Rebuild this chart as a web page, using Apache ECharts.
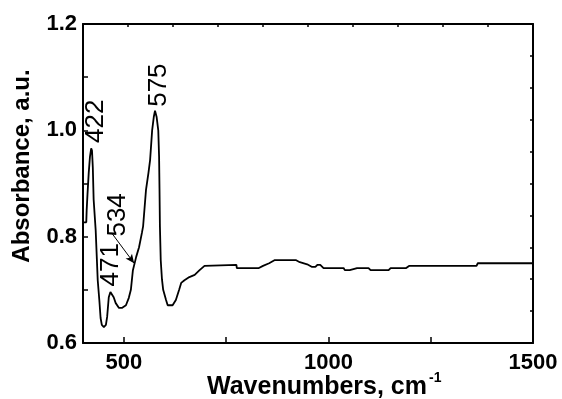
<!DOCTYPE html>
<html>
<head>
<meta charset="UTF-8">
<title>Absorbance spectrum</title>
<script src="https://cdn.jsdelivr.net/npm/echarts@6/dist/echarts.min.js"></script>
<style>
  html, body { margin: 0; padding: 0; background: #fff; }
  #main { width: 562px; height: 399px; }
</style>
</head>
<body>
<div id="main"></div>
<script>
// spectrum
var wavenumbers = [400, 408, 409, 411, 414, 417, 420, 422, 424, 426, 431, 436, 440, 443, 446, 451, 456, 459, 463, 467,
  470, 475, 480, 488, 495, 505, 512, 517, 522, 530, 537, 544, 547, 554, 560, 564, 569, 573, 576, 580,
  584, 586, 587, 588, 590, 593, 596, 603, 607, 619, 627, 635, 640, 648, 660, 673, 685, 697, 700, 775,
  776, 830, 840, 855, 869, 920, 930, 948, 960, 968, 973, 980, 988, 1037, 1040, 1052, 1055, 1070, 1098, 1103,
  1147, 1152, 1190, 1197, 1362, 1365, 1404, 1406, 1408, 1500];
var absorbance = [0.827, 0.827, 0.85, 0.88, 0.92, 0.95, 0.966, 0.962, 0.93, 0.87, 0.812, 0.718, 0.68, 0.647, 0.634, 0.630, 0.634, 0.649, 0.686, 0.696,
  0.698, 0.686, 0.675, 0.666, 0.666, 0.671, 0.685, 0.700, 0.737, 0.762, 0.780, 0.807, 0.82, 0.888, 0.92, 0.944, 1.0, 1.025, 1.037, 1.025,
  1.0, 0.95, 0.89, 0.82, 0.756, 0.72, 0.70, 0.681, 0.671, 0.671, 0.681, 0.700, 0.713, 0.718, 0.724, 0.728, 0.737, 0.745, 0.747, 0.747,
  0.741, 0.741, 0.745, 0.750, 0.756, 0.756, 0.752, 0.748, 0.743, 0.743, 0.747, 0.747, 0.741, 0.741, 0.737, 0.737, 0.739, 0.741, 0.741, 0.737,
  0.737, 0.741, 0.741, 0.745, 0.745, 0.750, 0.750, 0.753, 0.750, 0.750];

var xTicks = [500, 750, 1000, 1250, 1500];
var xTickLabels = [500, 1000, 1500];

// peak labels (rotated) and where they sit
var peakNames = ['422', '575', '534', '471'];
var peakLabelX = [431, 586, 485, 468];
var peakLabelY = [1.017, 1.085, 0.841, 0.747];

// leader arrow for 534
var arrowFrom = [470, 0.807];
var arrowTo = [525, 0.750];

var font = 'Arial, "Liberation Sans", sans-serif';

var spectrum = wavenumbers.map(function (w, i) { return [w, absorbance[i]]; });
var peakData = peakNames.map(function (n, i) { return { name: n, value: [peakLabelX[i], peakLabelY[i]] }; });

var chart = echarts.init(document.getElementById('main'));

var option = {
  animation: false,
  backgroundColor: '#fff',
  grid: { left: 83, right: 29, top: 24, bottom: 56 },
  xAxis: [{
    type: 'value',
    min: 400,
    max: 1500,
    axisLine: { lineStyle: { color: '#000', width: 2 } },
    axisTick: { inside: true, length: 6, customValues: xTicks, lineStyle: { color: '#000', width: 1.5 } },
    axisLabel: {
      customValues: xTickLabels,
      color: '#000', fontSize: 22, fontWeight: 'bold', fontFamily: font, margin: 9,
      formatter: function (v) { return String(v); }
    },
    splitLine: { show: false }
  }, {
    type: 'value',
    position: 'top',
    min: 0, max: 10, interval: 1,
    axisLine: { onZero: false, lineStyle: { color: '#000', width: 2 } },
    axisTick: { inside: true, length: 3, lineStyle: { color: '#000', width: 1.5 } },
    axisLabel: { show: false },
    splitLine: { show: false }
  }],
  yAxis: [{
    type: 'value',
    min: 0.6,
    max: 1.2,
    interval: 0.2,
    axisLine: { show: true, onZero: false, lineStyle: { color: '#000', width: 2 } },
    axisTick: { show: true, inside: true, length: 5, lineStyle: { color: '#000', width: 1.5 } },
    minorTick: { show: true, splitNumber: 2, length: 5, lineStyle: { color: '#000', width: 1.5 } },
    axisLabel: {
      color: '#000', fontSize: 22, fontWeight: 'bold', fontFamily: font, margin: 6,
      formatter: function (v) { return v.toFixed(1); }
    },
    splitLine: { show: false }
  }, {
    type: 'value',
    position: 'right',
    min: 0, max: 10, interval: 1,
    axisLine: { show: true, onZero: false, lineStyle: { color: '#000', width: 2 } },
    axisTick: { show: true, inside: true, length: 3, lineStyle: { color: '#000', width: 1.5 } },
    axisLabel: { show: false },
    splitLine: { show: false }
  }],
  series: [{
    name: 'Absorbance',
    type: 'line',
    data: spectrum,
    showSymbol: false,
    symbol: 'none',
    lineStyle: { color: '#000', width: 1.8 },
    markLine: {
      silent: true,
      symbol: ['none', 'arrow'],
      symbolSize: [6, 9],
      label: { show: false },
      lineStyle: { color: '#000', width: 1, type: 'solid' },
      data: [[{ coord: arrowFrom }, { coord: arrowTo }]]
    }
  }, {
    name: 'peaks',
    type: 'scatter',
    data: peakData,
    symbolSize: 1,
    itemStyle: { color: 'rgba(0,0,0,0)' },
    label: {
      show: true,
      position: 'inside',
      rotate: 90,
      formatter: function (p) { return p.name; },
      color: '#000', opacity: 1, textBorderWidth: 0,
      fontSize: 26, fontFamily: font
    }
  }],
  graphic: [{
    type: 'text',
    x: 22, y: 166,
    rotation: Math.PI / 2,
    style: {
      text: 'Absorbance, a.u.',
      font: 'bold 24px ' + font,
      fill: '#000',
      textAlign: 'center',
      textVerticalAlign: 'middle'
    }
  }, {
    type: 'text',
    x: 207, y: 387,
    style: {
      text: 'Wavenumbers, cm',
      font: 'bold 25px ' + font,
      fill: '#000',
      textAlign: 'left',
      textVerticalAlign: 'middle'
    }
  }, {
    type: 'text',
    x: 429, y: 378,
    style: {
      text: '-1',
      font: 'bold 14px ' + font,
      fill: '#000',
      textAlign: 'left',
      textVerticalAlign: 'middle'
    }
  }]
};

chart.setOption(option);
</script>
</body>
</html>
